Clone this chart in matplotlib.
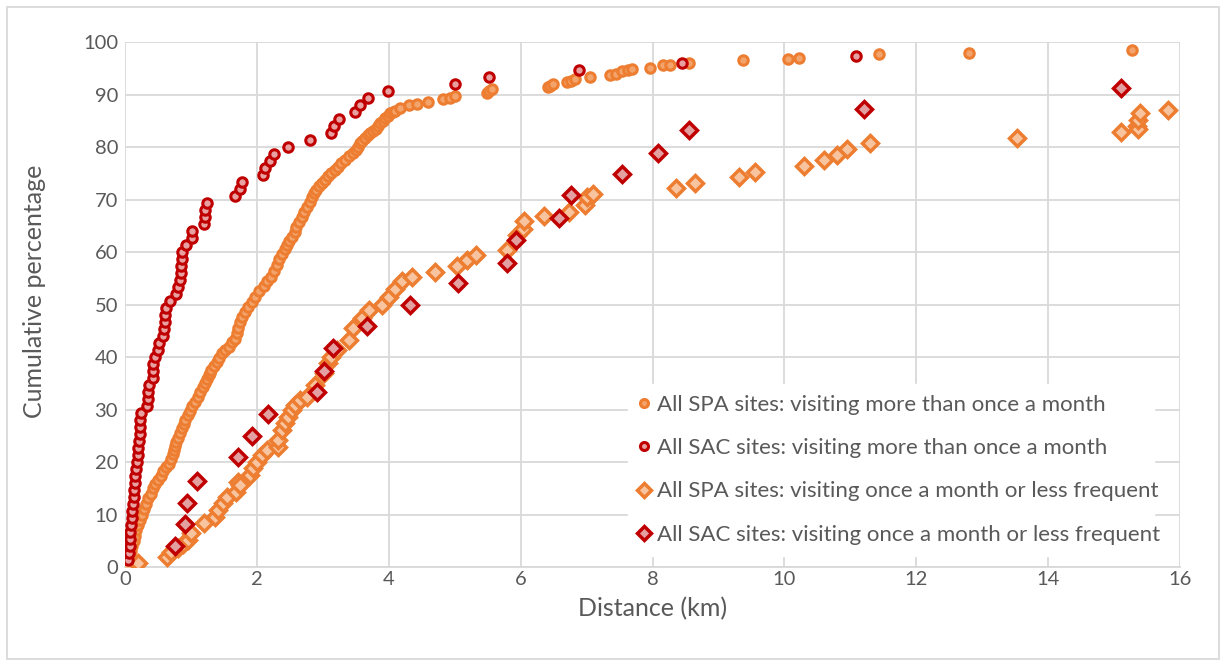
import numpy as np
import matplotlib.pyplot as plt
from matplotlib.patches import Rectangle

# SPA sites, visiting more than once a month (cumulative %)
spa_freq_km = [0.03, 0.05, 0.07, 0.09, 0.11, 0.13, 0.15, 0.17, 0.2, 0.22, 0.25, 0.28, 0.32,
               0.35, 0.39, 0.42, 0.46, 0.5, 0.54, 0.58, 0.62, 0.66, 0.69, 0.72, 0.74, 0.76,
               0.78, 0.8, 0.83, 0.86, 0.89, 0.91, 0.95, 0.98, 1.02, 1.06, 1.1, 1.14, 1.18,
               1.21, 1.24, 1.27, 1.29, 1.31, 1.35, 1.39, 1.43, 1.47, 1.52, 1.57, 1.62, 1.67,
               1.7, 1.72, 1.75, 1.77, 1.82, 1.87, 1.92, 1.97, 2.03, 2.1, 2.16, 2.22, 2.26,
               2.3, 2.34, 2.38, 2.42, 2.45, 2.49, 2.53, 2.57, 2.6, 2.64, 2.68, 2.72, 2.76,
               2.8, 2.83, 2.87, 2.9, 2.94, 2.98, 3.03, 3.08, 3.13, 3.18, 3.23, 3.28, 3.33,
               3.39, 3.45, 3.5, 3.53, 3.56, 3.6, 3.64, 3.68, 3.72, 3.76, 3.8, 3.84, 3.87,
               3.91, 3.95, 3.99, 4.02, 4.06, 4.1, 4.17, 4.3, 4.43, 4.6, 4.82, 4.93, 5.0,
               5.49, 5.52, 5.56, 6.41, 6.45, 6.49, 6.7, 6.76, 6.82, 7.05, 7.36, 7.45, 7.54,
               7.63, 7.69, 7.96, 8.16, 8.27, 8.55, 9.37, 10.06, 10.22, 11.43, 12.8, 15.27]
spa_freq_pct = [0.0, 1.0, 2.0, 3.0, 4.0, 5.0, 6.0, 7.0, 8.0, 9.0, 10.0, 11.0, 12.0,
                13.2, 14.0, 15.0, 15.8, 16.6, 17.4, 18.2, 19.0, 19.7, 20.6, 21.5, 22.2, 23.0,
                23.8, 24.5, 25.5, 26.5, 27.2, 28.0, 29.0, 29.8, 30.6, 31.5, 32.4, 33.3, 34.2,
                35.0, 35.8, 36.5, 37.0, 37.5, 38.2, 39.0, 39.8, 40.7, 41.3, 42.0, 42.8, 43.5,
                44.5, 45.5, 46.6, 47.7, 48.6, 49.5, 50.5, 51.5, 52.5, 53.5, 54.4, 55.3, 56.4,
                57.5, 58.6, 59.7, 60.5, 61.3, 62.1, 62.9, 63.9, 64.8, 65.8, 66.7, 67.6, 68.6,
                69.6, 70.5, 71.2, 71.8, 72.5, 73.1, 73.8, 74.4, 75.0, 75.6, 76.2, 76.9, 77.6,
                78.2, 78.8, 79.4, 80.0, 80.7, 81.2, 81.7, 82.2, 82.6, 83.0, 83.5, 84.0, 84.5,
                85.0, 85.5, 86.0, 86.4, 86.7, 86.9, 87.4, 88.0, 88.2, 88.6, 89.1, 89.3, 89.8,
                90.2, 90.6, 91.0, 91.5, 91.7, 92.0, 92.4, 92.6, 92.9, 93.4, 93.7, 94.0, 94.5,
                94.6, 94.8, 95.1, 95.6, 95.7, 96.0, 96.5, 96.7, 97.0, 97.8, 97.9, 98.5]

# SAC sites, visiting more than once a month
sac_freq_km = [0.05, 0.06, 0.07, 0.07, 0.08, 0.09, 0.1, 0.11, 0.12, 0.13, 0.14, 0.15, 0.15,
               0.16, 0.18, 0.19, 0.2, 0.21, 0.22, 0.22, 0.23, 0.24, 0.34, 0.35, 0.35, 0.36,
               0.42, 0.42, 0.43, 0.45, 0.5, 0.52, 0.58, 0.59, 0.6, 0.61, 0.62, 0.68, 0.77,
               0.8, 0.84, 0.85, 0.85, 0.86, 0.86, 0.92, 1.01, 1.02, 1.2, 1.21, 1.21, 1.24,
               1.67, 1.74, 1.78, 2.09, 2.13, 2.2, 2.26, 2.47, 2.8, 3.13, 3.17, 3.25, 3.49,
               3.56, 3.68, 3.99, 5.0, 5.52, 6.88, 8.45, 11.08]
sac_freq_pct = [1.3, 2.7, 4.0, 5.3, 6.7, 8.0, 9.3, 10.7, 12.0, 13.3, 14.7, 16.0, 17.3,
                18.7, 20.0, 21.3, 22.7, 24.0, 25.3, 26.7, 28.0, 29.3, 30.7, 32.0, 33.3, 34.7,
                36.0, 37.3, 38.7, 40.0, 41.3, 42.7, 44.0, 45.3, 46.7, 48.0, 49.3, 50.7, 52.0,
                53.3, 54.7, 56.0, 57.3, 58.7, 60.0, 61.3, 62.7, 64.0, 65.3, 66.7, 68.0, 69.3,
                70.7, 72.0, 73.3, 74.7, 76.0, 77.3, 78.7, 80.0, 81.3, 82.7, 84.0, 85.3, 86.7,
                88.0, 89.3, 90.7, 92.0, 93.3, 94.7, 96.0, 97.3]

# SPA sites, visiting once a month or less
spa_infreq_km = [0.0, 0.19, 0.63, 0.7, 0.8, 0.88, 0.95, 1.0, 1.19, 1.36, 1.41, 1.49, 1.54,
                 1.69, 1.71, 1.74, 1.9, 1.94, 2.0, 2.07, 2.15, 2.32, 2.32, 2.38, 2.43, 2.47,
                 2.53, 2.58, 2.65, 2.76, 2.88, 3.01, 3.08, 3.13, 3.21, 3.39, 3.45, 3.6, 3.7,
                 3.9, 4.0, 4.1, 4.2, 4.35, 4.7, 5.03, 5.18, 5.32, 5.8, 5.94, 6.03, 6.05, 6.36,
                 6.74, 6.97, 7.0, 7.1, 8.36, 8.65, 9.31, 9.56, 10.3, 10.6, 10.8, 10.95, 11.3,
                 13.53, 15.1, 15.34, 15.36, 15.36, 15.4, 15.82]
spa_infreq_pct = [0.0, 0.8, 2.0, 2.8, 3.6, 4.4, 5.2, 6.4, 8.3, 9.6, 10.9, 12.2, 13.4,
                  14.3, 16.2, 15.6, 17.5, 18.9, 20.0, 21.3, 22.3, 22.9, 24.2, 26.1, 27.4, 28.6,
                  29.9, 30.9, 31.8, 32.4, 34.7, 36.9, 38.8, 40.0, 41.3, 43.2, 45.5, 47.5, 49.0,
                  50.0, 51.5, 53.0, 54.5, 55.2, 56.2, 57.3, 58.5, 59.5, 60.4, 63.3, 64.4, 66.0,
                  66.8, 67.7, 69.0, 70.5, 71.0, 72.2, 73.2, 74.3, 75.3, 76.3, 77.5, 78.4, 79.7,
                  80.7, 81.7, 82.8, 84.0, 83.5, 85.2, 86.5, 87.0]

# SAC sites, visiting once a month or less
sac_infreq_km = [0.75, 0.91, 0.94, 1.09, 1.72, 1.92, 2.17, 2.91, 3.01, 3.16, 3.67, 4.32,
                 5.05, 5.8, 5.93, 6.58, 6.76, 7.54, 8.09, 8.56, 11.2, 15.1]
sac_infreq_pct = [4.0, 8.2, 12.2, 16.4, 20.9, 25.0, 29.1, 33.4, 37.4, 41.7, 45.9, 49.9,
                  54.1, 57.9, 62.2, 66.4, 70.8, 74.9, 78.9, 83.2, 87.3, 91.3]

labels = ['All SPA sites: visiting more than once a month',
          'All SAC sites: visiting more than once a month',
          'All SPA sites: visiting once a month or less frequent',
          'All SAC sites: visiting once a month or less frequent']

orange = '#ED7D31'
red = '#C00000'
grey_txt = '#595959'
grid_col = '#D9D9D9'

plt.rcParams['font.family'] = ['Lato', 'DejaVu Sans']

fig = plt.figure(figsize=(12.26, 6.66), dpi=100)
ax = fig.add_axes([0.102, 0.1486, 0.8605, 0.7883])

ax.plot(spa_freq_km, spa_freq_pct, ls='none', marker='o', ms=6.8, mew=2.2,
        mec=orange, mfc='#F3A46C', label=labels[0], zorder=3)
ax.plot(sac_freq_km, sac_freq_pct, ls='none', marker='o', ms=6.8, mew=2.2,
        mec=red, mfc='#E8A0A0', label=labels[1], zorder=4)
ax.plot(spa_infreq_km, spa_infreq_pct, ls='none', marker='D', ms=7.8, mew=2.5,
        mec=orange, mfc='#F8C4A0', label=labels[2], zorder=3)
ax.plot(sac_infreq_km, sac_infreq_pct, ls='none', marker='D', ms=7.8, mew=2.5,
        mec=red, mfc='#E3A0A0', label=labels[3], zorder=4)

ax.set_xlim(0, 16)
ax.set_ylim(0, 100)
ax.set_xticks(np.arange(0, 17, 2))
ax.set_yticks(np.arange(0, 101, 10))
ax.grid(True, color=grid_col, lw=1.3)
ax.set_axisbelow(True)
for s in ['top', 'right', 'left']:
    ax.spines[s].set_visible(False)
ax.spines['bottom'].set_color(grid_col)
ax.spines['bottom'].set_linewidth(1.3)
ax.tick_params(length=0, labelsize=14.5, colors=grey_txt)
ax.tick_params(axis='y', pad=5)
ax.tick_params(axis='x', pad=3)

ax.set_xlabel('Distance (km)', fontsize=18, color=grey_txt, labelpad=6)
ax.set_ylabel('Cumulative percentage', fontsize=18, color=grey_txt)
ax.yaxis.set_label_coords(-0.075, 0.526)

leg = ax.legend(loc='lower left', bbox_to_anchor=(0.466, 0.0, 0.52, 0.35),
                mode='expand', frameon=True, fancybox=False, framealpha=1,
                edgecolor='white', fontsize=16, labelcolor=grey_txt,
                handlelength=0.5, handletextpad=0.3, labelspacing=1.05,
                borderpad=0.5, markerscale=0.85)

# outer chart border
fig.patches.append(Rectangle((0.006, 0.01), 0.988, 0.98, transform=fig.transFigure,
                             fill=False, edgecolor=grid_col, lw=1.3))

fig.savefig('out.png', dpi=100)
